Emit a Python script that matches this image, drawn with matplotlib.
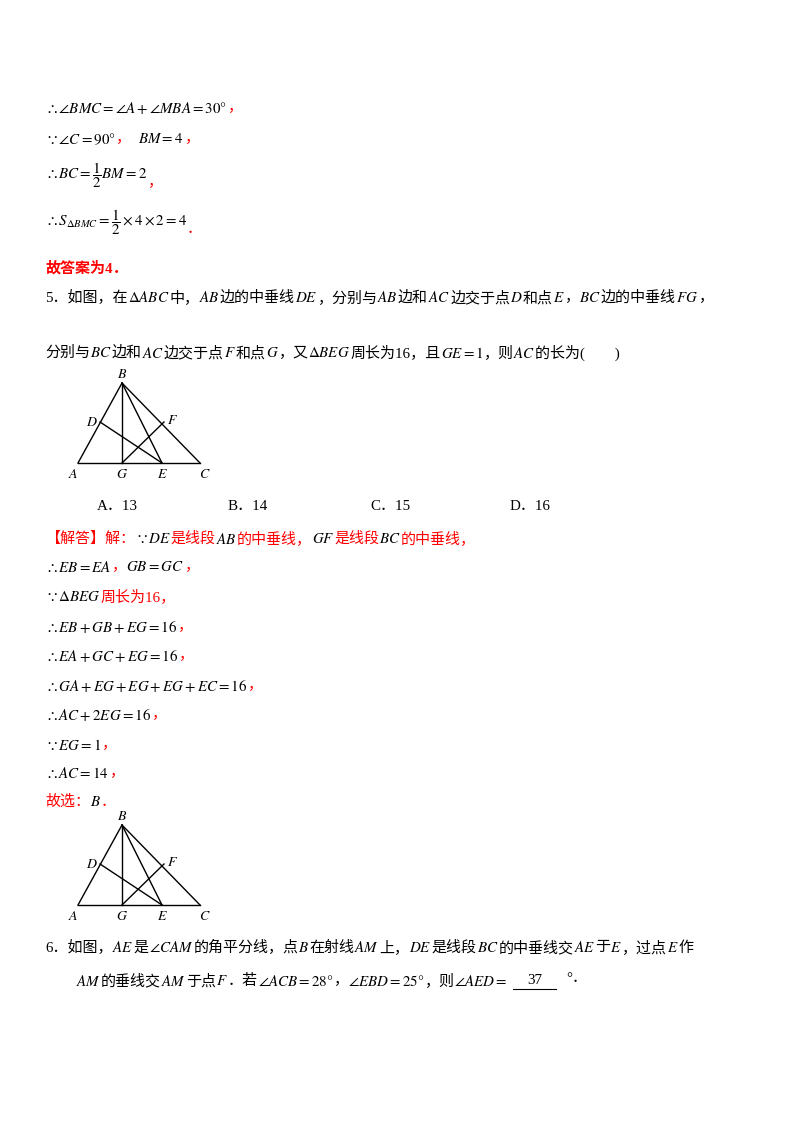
import matplotlib
matplotlib.use("Agg")
import matplotlib.pyplot as plt

plt.rcParams['font.family'] = ['Liberation Serif', 'Noto Sans CJK SC', 'DejaVu Sans']
plt.rcParams['mathtext.fontset'] = 'stix'

R = '#ff0000'
K = '#000000'
FS = 10.8

lines = [
    (108, 45, [(r'$\therefore\angle BMC=\angle A+\angle MBA=30°$', K, False), ('，', R, False)]),
    (139, 45, [(r'$\because\angle C=90°$', K, False), ('，  ', R, False), (r'$BM=4$', K, False), ('，', R, False)]),
    (175, 45, [(r'$\therefore BC=\dfrac{1}{2}BM=2$', K, False), ('\n，', R, False)]),
    (222, 45, [(r'$\therefore S_{\Delta BMC}=\dfrac{1}{2}\times4\times2=4$', K, False), ('\n．', R, False)]),
    (268, 45, [('故答案为4．', R, True)]),
    (298, 45, [('5．如图，在', K, False), (r'$\Delta ABC$', K, False), ('中，', K, False), (r'$AB$', K, False),
               ('边的中垂线', K, False), (r'$DE$', K, False), ('，分别与', K, False), (r'$AB$', K, False),
               ('边和', K, False), (r'$AC$', K, False), ('边交于点', K, False), (r'$D$', K, False),
               ('和点', K, False), (r'$E$', K, False), ('，', K, False), (r'$BC$', K, False),
               ('边的中垂线', K, False), (r'$FG$', K, False), ('，', K, False)]),
    (353, 45, [('分别与', K, False), (r'$BC$', K, False), ('边和', K, False), (r'$AC$', K, False),
               ('边交于点', K, False), (r'$F$', K, False), ('和点', K, False), (r'$G$', K, False),
               ('，又', K, False), (r'$\Delta BEG$', K, False), ('周长为16，且', K, False), (r'$GE=1$', K, False),
               ('，则', K, False), (r'$AC$', K, False), ('的长为(　　)', K, False)]),
    (539, 45, [('【解答】解：', R, False), (r'$\because DE$', K, False), ('是线段', R, False), (r'$AB$', K, False),
               ('的中垂线，', R, False), (r'$GF$', K, False), ('是线段', R, False), (r'$BC$', K, False),
               ('的中垂线，', R, False)]),
    (567, 45, [(r'$\therefore EB=EA$', K, False), ('，', R, False), (r'$GB=GC$', K, False), ('，', R, False)]),
    (597, 45, [(r'$\because\Delta BEG$', K, False), ('周长为16，', R, False)]),
    (627, 45, [(r'$\therefore EB+GB+EG=16$', K, False), ('，', R, False)]),
    (656, 45, [(r'$\therefore EA+GC+EG=16$', K, False), ('，', R, False)]),
    (686, 45, [(r'$\therefore GA+EG+EG+EG+EC=16$', K, False), ('，', R, False)]),
    (715, 45, [(r'$\therefore AC+2EG=16$', K, False), ('，', R, False)]),
    (745, 45, [(r'$\because EG=1$', K, False), ('，', R, False)]),
    (773, 45, [(r'$\therefore AC=14$', K, False), ('，', R, False)]),
    (802, 45, [('故选：', R, False), (r'$B$', K, False), ('．', R, False)]),
    (948, 45, [('6．如图，', K, False), (r'$AE$', K, False), ('是', K, False), (r'$\angle CAM$', K, False),
               ('的角平分线，点', K, False), (r'$B$', K, False), ('在射线', K, False), (r'$AM$', K, False),
               ('上，', K, False), (r'$DE$', K, False), ('是线段', K, False), (r'$BC$', K, False),
               ('的中垂线交', K, False), (r'$AE$', K, False), ('于', K, False), (r'$E$', K, False),
               ('，过点', K, False), (r'$E$', K, False), ('作', K, False)]),
    (981, 76, [(r'$AM$', K, False), ('的垂线交', K, False), (r'$AM$', K, False), ('于点', K, False),
               (r'$F$', K, False), ('．若', K, False), (r'$\angle ACB=28°$', K, False), ('，', K, False),
               (r'$\angle EBD=25°$', K, False), ('，则', K, False), (r'$\angle AED=$', K, False)]),
]

answer = '37'
options = ['A．13', 'B．14', 'C．15', 'D．16']
option_x = [97, 228, 370, 510]
option_y = 506

pt_names = ['A', 'B', 'C', 'D', 'E', 'F', 'G']
pt_x = [78, 122, 200, 100, 162, 164, 122]
pt_y = [0, -80, 0, -41, 0, -41, 0]
segments = [('A', 'B'), ('B', 'C'), ('A', 'C'), ('B', 'G'), ('B', 'E'), ('D', 'E'), ('G', 'F')]
fig_bases = [463, 905]
label_off = {'A': (-5, 12), 'B': (0, -9), 'C': (5, 12), 'D': (-8, 0), 'E': (0, 12), 'F': (8, -2), 'G': (0, 12)}

fig = plt.figure(figsize=(8, 11.32), dpi=100)
ax = fig.add_axes([0, 0, 1, 1])
ax.set_xlim(0, 800)
ax.set_ylim(1132, 0)
ax.axis('off')
fig.canvas.draw()
rend = fig.canvas.get_renderer()

for y, x, segs in lines:
    for txt, col, bold in segs:
        t = ax.text(x, y, txt, color=col, fontsize=FS, va='center', ha='left',
                    fontweight='bold' if bold else 'normal')
        x += t.get_window_extent(rend).width

ax.text(535, 980, answer, fontsize=FS, ha='center', va='center')
ax.plot([513, 556], [989, 989], color=K, lw=0.8)
ax.text(566, 979, '°．', fontsize=FS, ha='left', va='center')

for o, x in zip(options, option_x):
    ax.text(x, option_y, o, fontsize=FS, va='center', ha='left')

P = dict(zip(pt_names, zip(pt_x, pt_y)))
for base in fig_bases:
    for a, b in segments:
        ax.plot([P[a][0], P[b][0]], [base + P[a][1], base + P[b][1]], color=K, lw=1)
    for n in pt_names:
        dx, dy = label_off[n]
        ax.text(P[n][0] + dx, base + P[n][1] + dy, r'$\mathit{%s}$' % n, fontsize=10,
                ha='center', va='center')

fig.savefig('out.png', dpi=100)
